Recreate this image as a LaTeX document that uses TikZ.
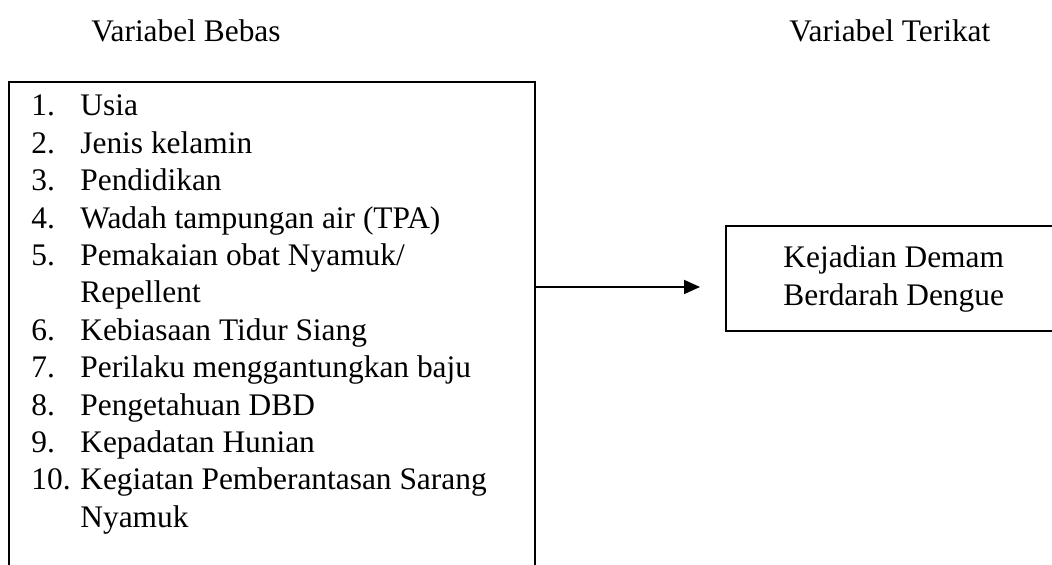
\documentclass[tikz,border=0pt]{standalone}
\usepackage{fontspec}
\setmainfont{Liberation Serif}
\usetikzlibrary{positioning,arrows.meta}
\tikzstyle{every link} = []
\tikzstyle{link} = [-{Triangle[length=8pt,width=7pt]}, draw, line width=0.9pt, every link]
\tikzstyle{kotak} = [draw, line width=0.9pt]
\tikzstyle{teks} = [inner sep=0pt, anchor=base west, font=\fontsize{15.7}{18.7}\selectfont]

\begin{document}
\begin{tikzpicture}[x=0.5pt,y=-0.5pt]
        \useasboundingbox (0,0) rectangle (1052,565);

        \node[teks] (judulbebas) at (91,42) {Variabel Bebas};
        \node[teks] (judulterikat) at (789,42) {Variabel Terikat};

        % kotak variabel bebas, terbuka di bawah
        \draw[kotak] (9,570) -- (9,82) -- (535,82) -- (535,570);
        \node[teks] (bebas) at (31,116) {%
            \begin{tabular}[t]{@{}p{24.5pt}@{}l@{}}
                1. & Usia\\
                2. & Jenis kelamin\\
                3. & Pendidikan\\
                4. & Wadah tampungan air (TPA)\\
                5. & Pemakaian obat Nyamuk/\\
                   & Repellent\\
                6. & Kebiasaan Tidur Siang\\
                7. & Perilaku menggantungkan baju\\
                8. & Pengetahuan DBD\\
                9. & Kepadatan Hunian\\
                10. & Kegiatan Pemberantasan Sarang\\
                    & Nyamuk
            \end{tabular}};

        % kotak variabel terikat, terpotong di kanan
        \draw[kotak] (1053,226) -- (726,226) -- (726,331) -- (1053,331);
        \node[teks] (terikat) at (783,268) {%
            \begin{tabular}[t]{@{}l@{}}
                Kejadian Demam\\
                Berdarah Dengue
            \end{tabular}};

        \coordinate (panahawal) at (535,287);
        \coordinate (panahakhir) at (700,287);
        \draw[link] (panahawal) -- (panahakhir);
\end{tikzpicture}
\end{document}
